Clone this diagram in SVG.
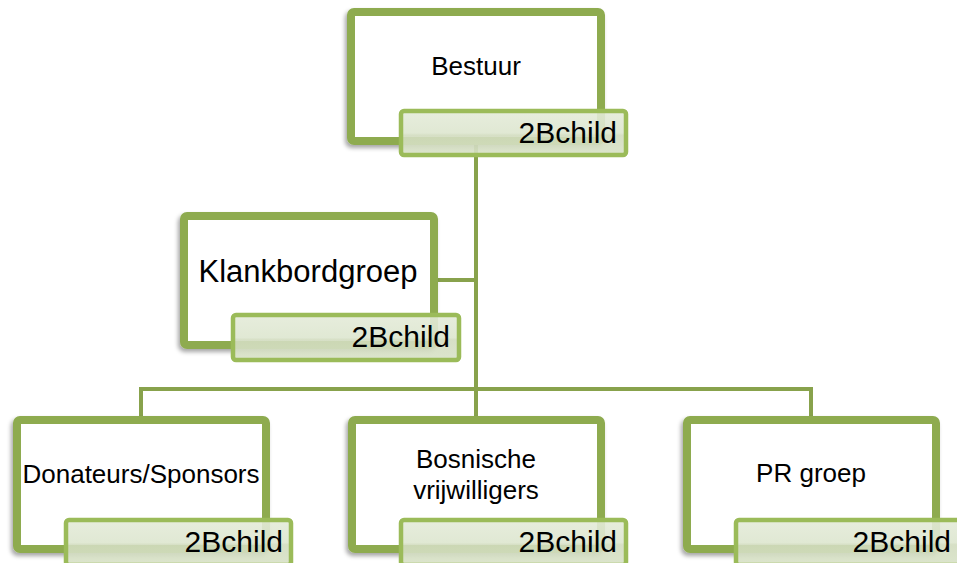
<svg xmlns="http://www.w3.org/2000/svg" width="957" height="563" viewBox="0 0 957 563">
<defs>
<linearGradient id="lg" x1="0" y1="0" x2="0" y2="1">
<stop offset="0" stop-color="#e4ebd9"/>
<stop offset="0.5" stop-color="#dde6cf"/>
<stop offset="0.55" stop-color="#d2dcbf"/>
<stop offset="1" stop-color="#d8e2c7"/>
</linearGradient>
<filter id="sh" x="-10%" y="-10%" width="120%" height="130%">
<feDropShadow dx="-2" dy="3" stdDeviation="2" flood-color="#000" flood-opacity="0.35"/>
</filter>
</defs>
<style>
.box{fill:#ffffff;stroke:#8eab50;stroke-width:8;filter:url(#sh)}
.lab{fill:url(#lg);fill-opacity:0.9;stroke:#9bbb59;stroke-width:4.5}
.conn{stroke:#88a24c;stroke-width:4;fill:none}
.t{font-family:"Liberation Sans",Arial,sans-serif;fill:#000;text-anchor:middle}
.lt{font-family:"Liberation Sans",Arial,sans-serif;fill:#000;font-size:30px;text-anchor:end}
</style>
<rect width="957" height="563" fill="#ffffff"/>
<g id="connectors">
<path class="conn" d="M476 141 V389"/>
<path class="conn" d="M438 280 H476"/>
<path class="conn" d="M141 416 V389 H811 V416"/>
<path class="conn" d="M476 389 V416"/>
</g>
<g id="bestuur">
<rect class="box" x="351" y="12" width="250" height="129" rx="3"/>
<text class="t" x="476" y="75" font-size="26">Bestuur</text>
<rect class="lab" x="401" y="111" width="225" height="44" rx="3"/>
<text class="lt" x="617" y="143">2Bchild</text>
</g>
<g id="klankbordgroep">
<rect class="box" x="184" y="216" width="250" height="129" rx="3"/>
<text class="t" x="308" y="282" font-size="31">Klankbordgroep</text>
<rect class="lab" x="233" y="315" width="226" height="45" rx="3"/>
<text class="lt" x="450" y="347">2Bchild</text>
</g>
<g id="donateurs">
<rect class="box" x="17" y="420" width="249" height="129" rx="3"/>
<text class="t" x="141" y="483" font-size="26">Donateurs/Sponsors</text>
<rect class="lab" x="66" y="520" width="225" height="45" rx="3"/>
<text class="lt" x="283" y="552">2Bchild</text>
</g>
<g id="bosnische">
<rect class="box" x="352" y="420" width="249" height="129" rx="3"/>
<text class="t" x="476" y="468" font-size="26">Bosnische</text>
<text class="t" x="476" y="499" font-size="26">vrijwilligers</text>
<rect class="lab" x="401" y="520" width="225" height="45" rx="3"/>
<text class="lt" x="617" y="552">2Bchild</text>
</g>
<g id="prgroep">
<rect class="box" x="687" y="420" width="249" height="129" rx="3"/>
<text class="t" x="811" y="482" font-size="26">PR groep</text>
<rect class="lab" x="736" y="520" width="225" height="45" rx="3"/>
<text class="lt" x="951" y="552">2Bchild</text>
</g>
</svg>
